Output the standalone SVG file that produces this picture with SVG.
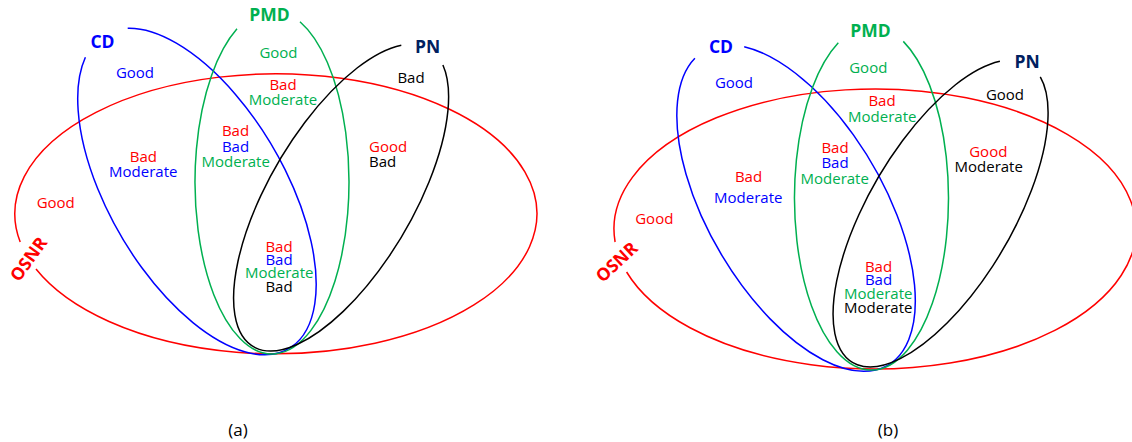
<svg xmlns="http://www.w3.org/2000/svg" width="1132" height="442" viewBox="0 0 1132 442">
<style>
  .c{fill:none;stroke-width:1.5}
  .r{stroke:#FF0000}.b{stroke:#0000FF}.g{stroke:#00B050}.k{stroke:#000000}
  text{font-family:"Open Sans","Liberation Sans",sans-serif;font-size:15px;text-anchor:middle}
  .lbl{font-weight:bold;font-size:17.5px}
  .tr{fill:#FF0000}.tb{fill:#0000FF}.tg{fill:#00B050}.tk{fill:#000000}.tn{fill:#002060}
  .cap{font-size:17px;fill:#000}
</style>
<rect width="1132" height="442" fill="#FFFFFF"/>

<g id="panel-a">
  <g id="shapes-a">
    <path id="osnr-a" class="c r" d="M 36 269 A 261 140 0 1 0 20.2 242"/>
    <path id="cd-a" class="c b" d="M 85.4 57.3 A 182 88 59.67 1 0 127.7 28.3"/>
    <path id="pmd-a" class="c g" d="M 237 28.8 A 77 172 0 1 0 300 21.8"/>
    <path id="pn-a" class="c k" d="M 401.3 45.2 A 173 72 -59.5 1 0 442.9 65"/>
  </g>
  <g id="labels-a">
    <text class="lbl tb" x="102.5" y="48">CD</text>
    <text class="lbl tg" x="269.5" y="20.7">PMD</text>
    <text class="lbl tn" x="427.5" y="52.7">PN</text>
    <text class="lbl tr" transform="translate(33.5 262.7) rotate(-54)">OSNR</text>

    <text class="tb" x="135" y="77.5">Good</text>
    <text class="tg" x="278.5" y="57.5">Good</text>
    <text class="tr" x="283" y="90">Bad</text>
    <text class="tg" x="283" y="105">Moderate</text>
    <text class="tk" x="411" y="83.3">Bad</text>

    <text class="tr" x="143.3" y="161.7">Bad</text>
    <text class="tb" x="143.3" y="176.7">Moderate</text>

    <text class="tr" x="235.5" y="136">Bad</text>
    <text class="tb" x="235.5" y="151.7">Bad</text>
    <text class="tg" x="235.7" y="167.3">Moderate</text>

    <text class="tr" x="369" y="151.7" style="text-anchor:start">Good</text>
    <text class="tk" x="369" y="167.3" style="text-anchor:start">Bad</text>

    <text class="tr" x="55.7" y="207.7">Good</text>

    <text class="tr" x="279" y="251.5">Bad</text>
    <text class="tb" x="279" y="265">Bad</text>
    <text class="tg" x="279.3" y="278.3">Moderate</text>
    <text class="tk" x="279" y="291.7">Bad</text>

    <text class="cap" x="238" y="436">(a)</text>
  </g>
</g>

<g id="panel-b">
  <g id="shapes-b">
    <path id="osnr-b" class="c r" d="M 626.6 272 A 261 140 0 1 0 615.1 242"/>
    <path id="cd-b" class="c b" d="M 694.9 58.2 A 182 88 59.67 1 0 744.2 46.7"/>
    <path id="pmd-b" class="c g" d="M 838.3 42.8 A 77 172 0 1 0 903.3 41.4"/>
    <path id="pn-b" class="c k" d="M 999.9 61.3 A 173 72 -59.5 1 0 1040.3 76.8"/>
  </g>
  <g id="labels-b">
    <text class="lbl tb" x="721" y="53.3">CD</text>
    <text class="lbl tg" x="870.5" y="37.3">PMD</text>
    <text class="lbl tn" x="1027" y="68.3">PN</text>
    <text class="lbl tr" transform="translate(620.9 266.5) rotate(-43)">OSNR</text>

    <text class="tb" x="734" y="88.3">Good</text>
    <text class="tg" x="868.3" y="73.3">Good</text>
    <text class="tr" x="882" y="106">Bad</text>
    <text class="tg" x="882.3" y="121.7">Moderate</text>
    <text class="tk" x="1005" y="100">Good</text>

    <text class="tr" x="748.5" y="182.3">Bad</text>
    <text class="tb" x="748.3" y="203.3">Moderate</text>

    <text class="tr" x="835" y="152.7">Bad</text>
    <text class="tb" x="835" y="168.3">Bad</text>
    <text class="tg" x="834.7" y="184">Moderate</text>

    <text class="tr" x="988.3" y="157.3">Good</text>
    <text class="tk" x="988.7" y="172.3">Moderate</text>

    <text class="tr" x="654.3" y="224">Good</text>

    <text class="tr" x="878.5" y="271.7">Bad</text>
    <text class="tb" x="878.5" y="285">Bad</text>
    <text class="tg" x="878.3" y="299">Moderate</text>
    <text class="tk" x="878.3" y="312.7">Moderate</text>

    <text class="cap" x="888" y="436">(b)</text>
  </g>
</g>
</svg>
